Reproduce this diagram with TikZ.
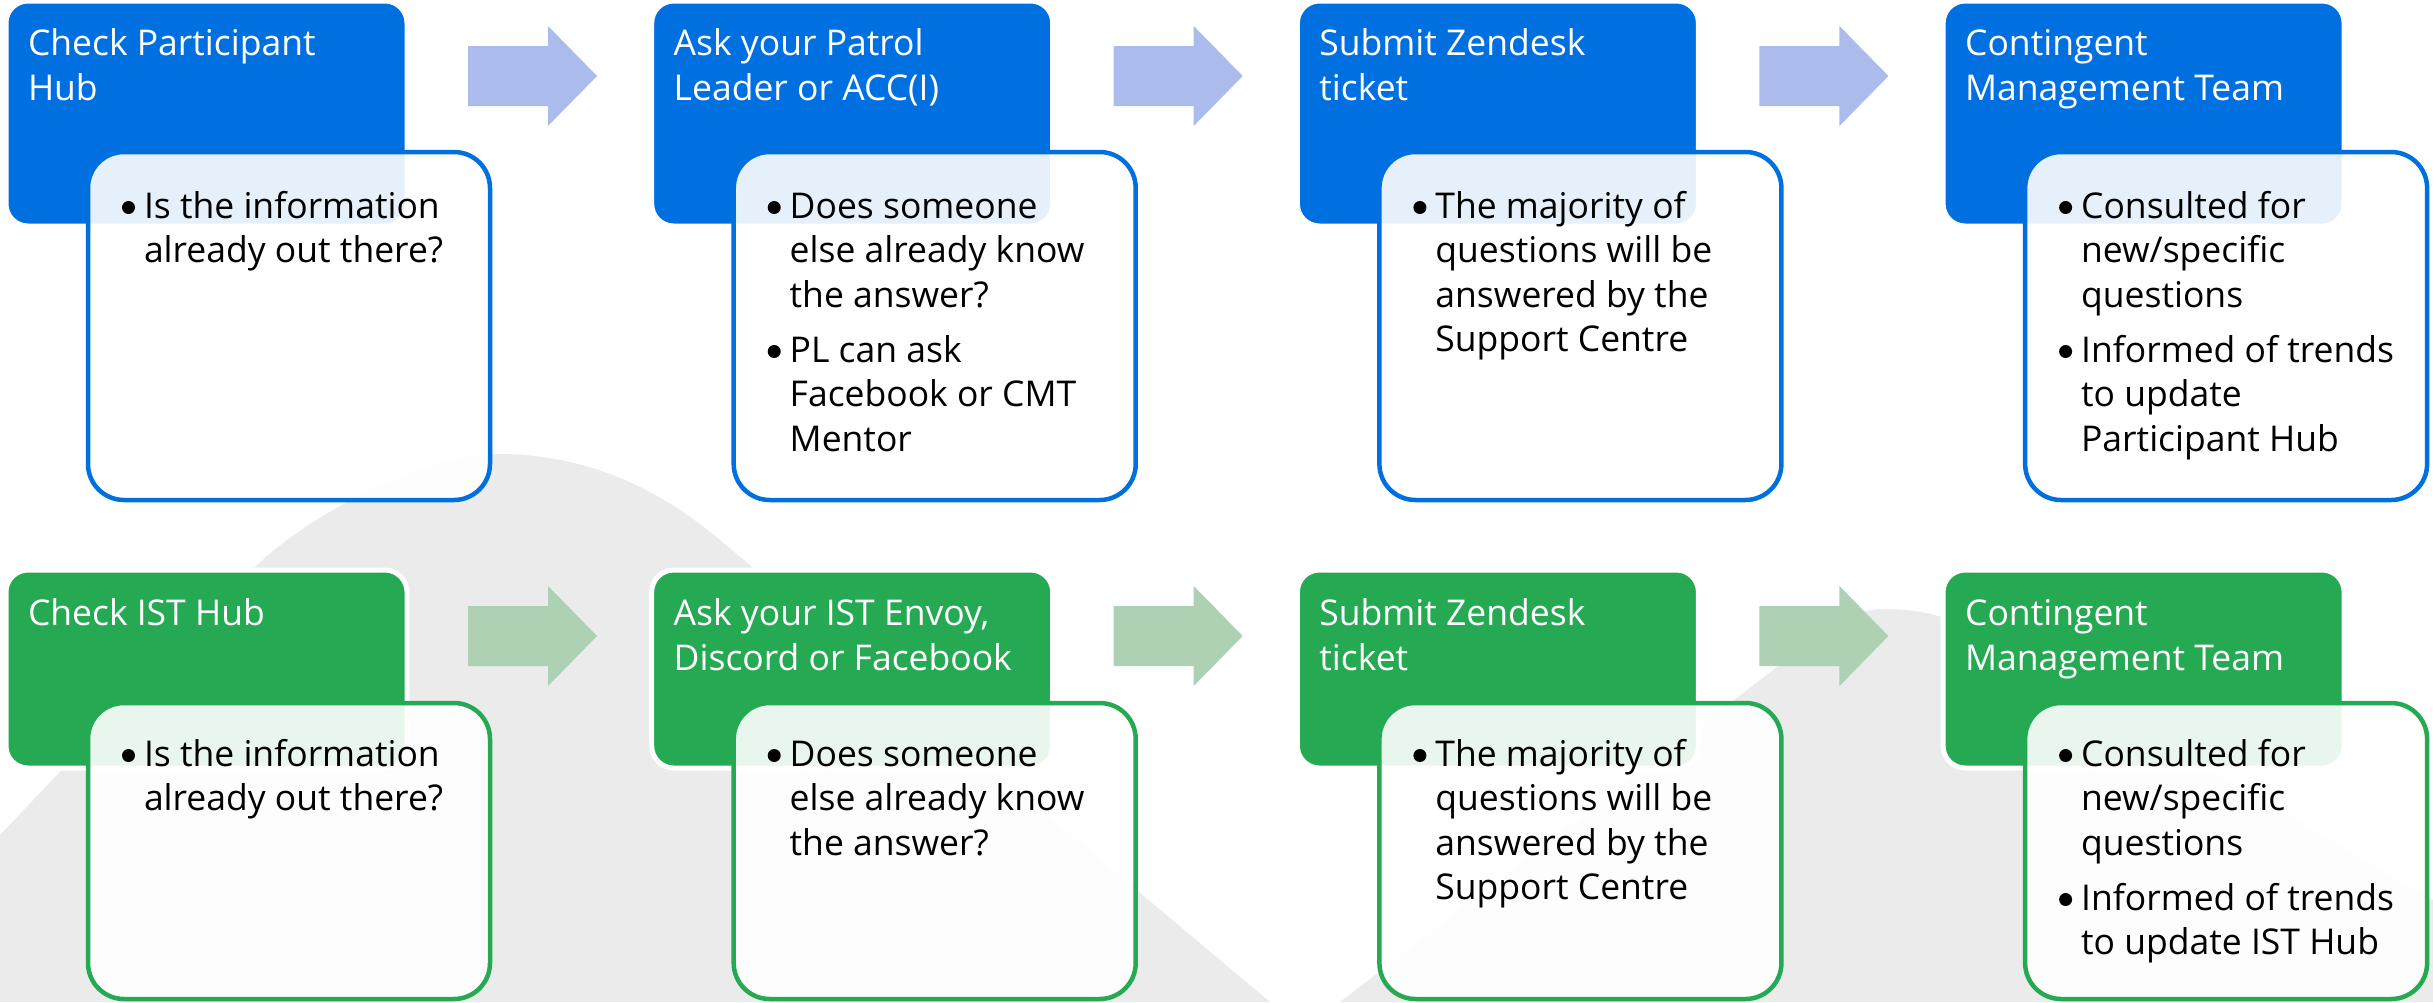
\documentclass[tikz,border=0pt]{standalone}
\usepackage{fontspec}
\setmainfont{Open Sans}
\usetikzlibrary{calc}
\definecolor{hblue}{RGB}{0,112,224}
\definecolor{hgreen}{RGB}{37,170,83}
\definecolor{ablue}{RGB}{170,187,236}
\definecolor{agreen}{RGB}{173,209,178}
\definecolor{bggray}{RGB}{235,235,235}
\newcommand{\htxt}[1]{\parbox[t]{380pt}{\fontsize{35.5pt}{45pt}\selectfont\raggedright #1}}
\newcommand{\btxt}[1]{\parbox[t]{330pt}{\fontsize{35.5pt}{44.5pt}\selectfont\raggedright #1}}
\newcommand{\bdot}{\tikz[baseline=0pt,x=1pt,y=1pt]\fill[black] (0,10.5) circle (6.5);}
\newcommand{\bitem}{\leavevmode\llap{\bdot\hspace{9pt}}}
\newcommand{\bnext}{\par\vspace{10.5pt}\bitem}
\newcommand{\blockarrow}[3]{%
  \begin{scope}[shift={(#1,#2)}]
    \fill[#3] (0,-30) -- (80,-30) -- (80,-50) -- (129,0) -- (80,50) -- (80,30) -- (0,30) -- cycle;
  \end{scope}}
\tikzset{
  hdrbox/.style={draw=white, line width=5pt, rounded corners=22pt, minimum width=401pt,
    inner sep=0pt, outer sep=0pt, anchor=north west},
  hdrB/.style={hdrbox, fill=hblue},
  hdrG/.style={hdrbox, fill=hgreen},
  bodybox/.style={line width=4.5pt, rounded corners=36pt, minimum width=402pt,
    fill=white, fill opacity=0.9, inner sep=0pt, outer sep=0pt, anchor=north west},
  bodyB/.style={bodybox, draw=hblue},
  bodyG/.style={bodybox, draw=hgreen},
  htext/.style={text=white, inner sep=0pt, outer sep=0pt, anchor=base west},
  btext/.style={text=black, inner sep=0pt, outer sep=0pt, anchor=base west},
}
\begin{document}
\begin{tikzpicture}[x=1pt,y=-1pt]
\useasboundingbox (0,0) rectangle (2433,1002);
% background shapes
\fill[bggray] (0,835) -- (250,572) .. controls (300,520) and (420,454) .. (497,454)
  .. controls (590,454) and (660,490) .. (720,540) -- (1270,1002) -- (0,1002) -- cycle;
\fill[bggray] (1340,1002) -- (1760,680) .. controls (1800,650) and (1840,609) .. (1883,609)
  .. controls (1920,609) and (1950,615) .. (1990,640) -- (2433,900) -- (2433,1002) -- cycle;
% arrows
\blockarrow{468}{76}{ablue}
\blockarrow{1113.7}{76}{ablue}
\blockarrow{1759.4}{76}{ablue}
\blockarrow{468}{636}{agreen}
\blockarrow{1113.7}{636}{agreen}
\blockarrow{1759.4}{636}{agreen}
% headers, top row
\node[hdrB, minimum height=225pt] (h1) at (6,1) {};
\node[hdrB, minimum height=225pt] (h2) at (651.7,1) {};
\node[hdrB, minimum height=225pt] (h3) at (1297.4,1) {};
\node[hdrB, minimum height=225pt] (h4) at (1943.1,1) {};
% headers, bottom row
\node[hdrG, minimum height=198pt] (g1) at (6,570) {};
\node[hdrG, minimum height=198pt] (g2) at (651.7,570) {};
\node[hdrG, minimum height=198pt] (g3) at (1297.4,570) {};
\node[hdrG, minimum height=198pt] (g4) at (1943.1,570) {};
% bodies
\node[bodyB, minimum height=348pt] (b1) at (88,152) {};
\node[bodyB, minimum height=348pt] (b2) at (733.7,152) {};
\node[bodyB, minimum height=348pt] (b3) at (1379.4,152) {};
\node[bodyB, minimum height=348pt] (b4) at (2025.1,152) {};
\node[bodyG, minimum height=296pt] (c1) at (88,703) {};
\node[bodyG, minimum height=296pt] (c2) at (733.7,703) {};
\node[bodyG, minimum height=296pt] (c3) at (1379.4,703) {};
\node[bodyG, minimum height=296pt] (c4) at (2025.1,703) {};
% header texts
\node[htext] (th1) at (28,55) {\htxt{Check Participant\\Hub}};
\node[htext] (th2) at (673.7,55) {\htxt{Ask your Patrol\\Leader or ACC(I)}};
\node[htext] (th3) at (1319.4,55) {\htxt{Submit Zendesk\\ticket}};
\node[htext] (th4) at (1965.1,55) {\htxt{Contingent\\Management Team}};
\node[htext] (tg1) at (28,625) {\htxt{Check IST Hub}};
\node[htext] (tg2) at (673.7,625) {\htxt{Ask your IST Envoy,\\Discord or Facebook}};
\node[htext] (tg3) at (1319.4,625) {\htxt{Submit Zendesk\\ticket}};
\node[htext] (tg4) at (1965.1,625) {\htxt{Contingent\\Management Team}};
% body texts
\node[btext] (tb1) at (144,218) {\btxt{\bitem Is the information\\already out there?}};
\node[btext] (tb2) at (789.7,218) {\btxt{\bitem Does someone\\else already know\\the answer?\bnext PL can ask\\Facebook or CMT\\Mentor}};
\node[btext] (tb3) at (1435.4,218) {\btxt{\bitem The majority of\\questions will be\\answered by the\\Support Centre}};
\node[btext] (tb4) at (2081.1,218) {\btxt{\bitem Consulted for\\new/specific\\questions\bnext Informed of trends\\to update\\Participant Hub}};
\node[btext] (tc1) at (144,766) {\btxt{\bitem Is the information\\already out there?}};
\node[btext] (tc2) at (789.7,766) {\btxt{\bitem Does someone\\else already know\\the answer?}};
\node[btext] (tc3) at (1435.4,766) {\btxt{\bitem The majority of\\questions will be\\answered by the\\Support Centre}};
\node[btext] (tc4) at (2081.1,766) {\btxt{\bitem Consulted for\\new/specific\\questions\bnext Informed of trends\\to update IST Hub}};
\end{tikzpicture}
\end{document}
